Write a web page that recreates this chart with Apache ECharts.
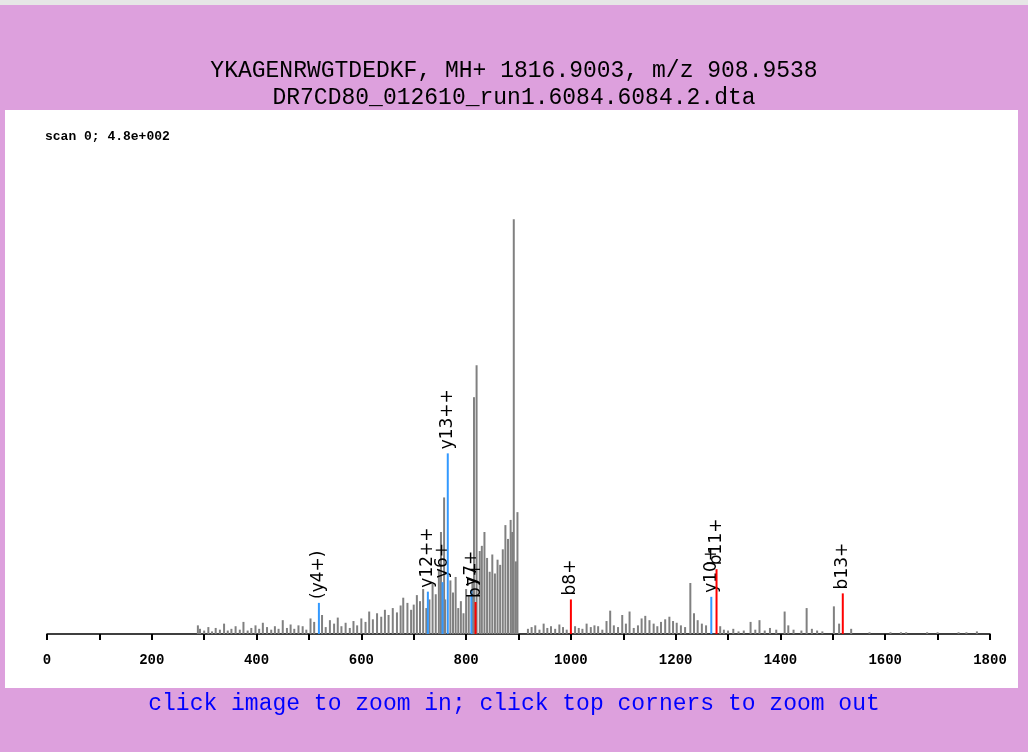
<!DOCTYPE html>
<html>
<head>
<meta charset="UTF-8">
<title>spectrum</title>
<style>
	html,body{margin:0;padding:0;background:#dda0dd;}
	#main{width:1028px;height:752px;}
</style>
</head>
<body>
<div id="main"></div>
<script src="https://cdn.jsdelivr.net/npm/echarts@6/dist/echarts.min.js"></script>
<script type="text/javascript">
// unmatched peaks (m/z, intensity)
var peakMz = [288,292,300,308,315,322,330,338,345,352,360,368,375,383,390,398,405,412,420,428,435,442,450,458,465,472,480,488,495,503,510,525,532,540,548,555,562,570,578,585,592,600,608,615,622,630,638,645,652,660,668,675,680,688,695,700,706,712,718,724,730,736,742,748,752,758,760,770,775,780,785,790,795,800,805,812,815,820,826,830,835,840,845,850,855,860,865,870,875,880,885,888,891,895,898,918,925,932,940,948,955,962,970,978,985,992,1008,1015,1022,1030,1038,1045,1052,1060,1068,1075,1082,1090,1098,1105,1112,1120,1128,1135,1142,1150,1158,1165,1172,1180,1188,1195,1202,1210,1218,1228,1235,1242,1250,1258,1285,1292,1300,1310,1320,1330,1343,1352,1360,1370,1380,1392,1408,1415,1425,1440,1450,1460,1470,1480,1502,1512,1535,1570,1610,1630,1640,1680,1700,1740,1755,1775];
var peakInt = [10,6,4,8,3,7,5,12,4,6,9,5,14,4,7,10,6,13,8,5,9,6,16,7,11,6,10,9,5,18,14,22,8,16,12,19,9,13,7,15,10,18,14,26,17,24,20,28,22,30,25,33,42,36,28,34,45,38,52,30,40,58,46,75,118,158,40,62,48,66,30,38,24,52,44,60,274,311,96,102,118,88,72,92,70,86,80,98,126,110,132,118,480,84,141,6,8,10,5,12,7,9,6,11,8,5,9,7,6,12,8,10,9,5,15,27,10,8,22,12,26,7,10,18,21,16,12,9,14,17,20,15,13,10,8,59,24,16,12,10,9,5,4,6,3,4,14,5,16,4,7,5,26,10,5,4,30,6,4,3,32,12,6,2,2,2,2,2,2,2,2,3];
// matched fragment ions
var ionMz = [519,727,755,765,810,818,1000,1268,1278,1519];
var ionInt = [36,49,60,209,51,37,40,43,75,47];
var ionLabel = ['(y4+)','y12++','y6+','y13++','y7+','b7+','b8+','y10+','b11+','b13+'];
var ionColor = ['#3399ff','#3399ff','#3399ff','#3399ff','#3399ff','#ff0000','#ff0000','#3399ff','#ff0000','#ff0000'];

var grayData = [], ionData = [];
for (var i = 0; i < peakMz.length; i++) grayData.push([peakMz[i], peakInt[i]]);
for (var j = 0; j < ionMz.length; j++) ionData.push([ionMz[j], ionInt[j], j]);

function stick(params, api){
	var p0 = api.coord([api.value(0), 0]);
	var p1 = api.coord([api.value(0), api.value(1)]);
	return {type:'line', shape:{x1:p0[0],y1:p0[1],x2:p1[0],y2:p1[1]}, style:{stroke:'#808080',lineWidth:2}};
}
function ionStick(params, api){
	var k = api.value(2);
	var p0 = api.coord([api.value(0), 0]);
	var p1 = api.coord([api.value(0), api.value(1)]);
	return {type:'group', children:[
		{type:'line', shape:{x1:p0[0],y1:p0[1],x2:p1[0],y2:p1[1]}, style:{stroke:ionColor[k],lineWidth:2}},
		{type:'text', x:p1[0], y:p1[1]-4, rotation:Math.PI/2,
			style:{text:ionLabel[k], fill:'#000', font:'17px "DejaVu Sans"', align:'left', verticalAlign:'middle'}}
	]};
}

var myChart = echarts.init(document.getElementById('main'));
var option = {
	animation:false,
	backgroundColor:'#dda0dd',
	graphic:[
		{type:'rect', shape:{x:0,y:0,width:1028,height:5}, style:{fill:'#e6e6e6'}, z:-10},
		{type:'rect', shape:{x:5,y:110,width:1013,height:578}, style:{fill:'#ffffff'}, z:-10},
		{type:'text', left:'center', top:59, style:{text:'YKAGENRWGTDEDKF, MH+ 1816.9003, m/z 908.9538', font:'23px "Liberation Mono"', fill:'#000'}},
		{type:'text', left:'center', top:86, style:{text:'DR7CD80_012610_run1.6084.6084.2.dta', font:'23px "Liberation Mono"', fill:'#000'}},
		{type:'text', left:45, top:130, style:{text:'scan 0; 4.8e+002', font:'bold 13px "Liberation Mono"', fill:'#000'}},
		{type:'text', left:'center', top:692, style:{text:'click image to zoom in; click top corners to zoom out', font:'23px "Liberation Mono"', fill:'#0000ff'}}
	],
	grid:{left:47, right:38, top:150, bottom:118},
	xAxis:{
		type:'value', min:0, max:1800, interval:200,
		axisLine:{lineStyle:{color:'#000',width:1.5}},
		axisTick:{inside:false, length:6, lineStyle:{color:'#000',width:2}},
		minorTick:{show:true, splitNumber:2, length:6, lineStyle:{color:'#000',width:2}},
		axisLabel:{color:'#000', fontFamily:'Liberation Mono', fontWeight:'bold', fontSize:14, margin:19,
			formatter:function(v){ return String(v); }},
		splitLine:{show:false}
	},
	yAxis:{type:'value', min:0, max:560, show:false},
	series:[
		{type:'custom', renderItem:stick, data:grayData},
		{type:'custom', renderItem:ionStick, data:ionData, z:5}
	]
};
myChart.setOption(option);
</script>
</body>
</html>
